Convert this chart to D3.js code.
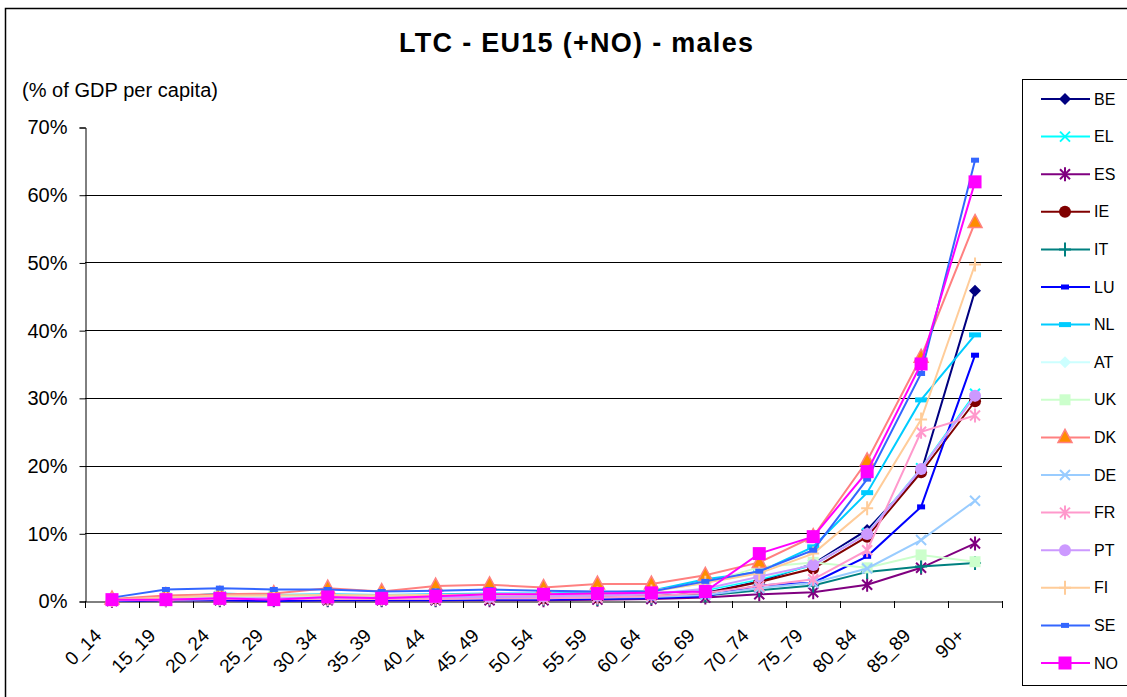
<!DOCTYPE html>
<html><head><meta charset="utf-8">
<script src="https://cdn.jsdelivr.net/npm/d3@7"></script>
<style>
html,body{margin:0;padding:0;background:#fff;}
svg{display:block;font-family:"Liberation Sans",Arial,sans-serif;}
</style></head>
<body>
<svg id="chart" width="1127" height="697"></svg>
<script>
const categories = ["0_14","15_19","20_24","25_29","30_34","35_39","40_44","45_49","50_54","55_59","60_64","65_69","70_74","75_79","80_84","85_89","90+"];
const seriesNames = ["BE","EL","ES","IE","IT","LU","NL","AT","UK","DK","DE","FR","PT","FI","SE","NO"];
const BE = [0.1,0.2,0.3,0.2,0.3,0.3,0.3,0.2,0.3,0.4,0.6,1.2,2.9,5.5,10.5,19.0,45.8];
const EL = [0.2,0.4,0.6,0.6,0.7,0.6,0.7,0.8,0.8,0.9,1.1,1.6,3.2,5.3,10.0,19.6,30.6];
const ES = [0.0,0.1,0.1,0.1,0.1,0.1,0.1,0.1,0.1,0.2,0.3,0.5,1.0,1.3,2.4,4.9,8.5];
const IE = [0.1,0.2,0.3,0.3,0.3,0.3,0.4,0.4,0.4,0.5,0.7,1.1,2.8,4.8,9.5,19.0,29.5];
const IT = [0.1,0.2,0.2,0.2,0.2,0.2,0.2,0.3,0.3,0.3,0.5,0.8,1.6,2.3,4.3,5.1,5.6];
const LU = [0.0,0.1,0.1,0.0,0.1,0.1,0.1,0.2,0.2,0.3,0.4,0.7,2.3,2.7,6.6,13.9,36.3];
const NL = [0.2,0.5,1.1,0.9,1.0,0.9,1.0,1.1,1.1,1.2,1.5,3.2,4.3,8.0,16.0,29.7,39.3];
const AT = [0.2,0.4,0.6,0.6,0.6,0.6,0.7,0.7,0.8,0.9,1.1,1.8,3.4,5.4,10.0,19.5,30.3];
const UK = [0.2,0.5,0.8,0.8,0.8,0.8,0.9,0.9,0.9,1.0,1.5,2.6,5.0,5.7,4.9,6.8,5.8];
const DK = [0.3,0.8,1.0,1.1,1.9,1.4,2.2,2.4,2.0,2.5,2.5,3.8,5.7,9.5,20.7,36.0,55.9];
const DE = [0.1,0.2,0.3,0.3,0.3,0.3,0.3,0.4,0.4,0.5,0.6,0.9,1.9,2.7,4.8,9.0,14.8];
const FR = [0.1,0.2,0.3,0.3,0.3,0.3,0.3,0.4,0.4,0.5,0.7,1.2,2.2,3.2,7.5,25.0,27.4];
const PT = [0.1,0.3,0.4,0.4,0.5,0.5,0.6,0.6,0.7,0.8,1.0,1.8,3.6,5.3,9.9,19.5,30.3];
const FI = [0.2,0.5,0.8,0.8,0.9,0.8,0.9,1.0,1.0,1.1,1.4,2.7,4.1,7.0,13.7,26.8,49.7];
const SE = [0.5,1.7,1.9,1.7,1.7,1.4,1.5,1.7,1.5,1.4,1.4,2.9,4.4,7.5,18.0,33.6,65.1];
const NO = [0.2,0.2,0.4,0.2,0.6,0.4,0.7,1.0,1.0,1.1,1.2,1.4,7.0,9.5,19.1,35.0,61.9];
const yTicks = [0,0.1,0.2,0.3,0.4,0.5,0.6,0.7];

const values = {BE,EL,ES,IE,IT,LU,NL,AT,UK,DK,DE,FR,PT,FI,SE,NO};
const styles = {
  BE:{c:"#000080",m:"diamond"}, EL:{c:"#00FFFF",m:"x"}, ES:{c:"#800080",m:"star"},
  IE:{c:"#800000",m:"circle"}, IT:{c:"#008080",m:"plus"}, LU:{c:"#0000FF",m:"dash"},
  NL:{c:"#00CCFF",m:"dashL"}, AT:{c:"#CCFFFF",m:"diamond"}, UK:{c:"#CCFFCC",m:"square"},
  DK:{c:"#FF8080",m:"triangle",f:"#FF8C00"}, DE:{c:"#99CCFF",m:"x"}, FR:{c:"#FF99CC",m:"star"},
  PT:{c:"#CC99FF",m:"circle"}, FI:{c:"#FFCC99",m:"plus"}, SE:{c:"#3366FF",m:"dash"},
  NO:{c:"#FF00FF",m:"squareL"}
};

const svg = d3.select("#chart");
svg.append("rect").attr("x",5.5).attr("y",8.5).attr("width",1130).attr("height",700)
  .attr("fill","none").attr("stroke","#000").attr("stroke-width",1.5);

const pLeft=85, pRight=1002, pTop=127, pBottom=601;
const x = d3.scaleBand().domain(categories).range([pLeft,pRight]);
const y = d3.scaleLinear().domain([0,0.7]).range([pBottom,pTop]);

svg.append("text").attr("x",399).attr("y",52)
  .attr("font-size",27).attr("font-weight","bold")
  .attr("textLength",354).attr("lengthAdjust","spacing").text("LTC - EU15 (+NO) - males");
svg.append("text").attr("x",22).attr("y",97).attr("font-size",20)
  .attr("textLength",196).attr("lengthAdjust","spacing").text("(% of GDP per capita)");

svg.append("g").selectAll("line").data(yTicks.filter(d=>d>0 && d<0.7)).join("line")
  .attr("x1",pLeft).attr("x2",pRight).attr("y1",d=>Math.round(y(d))+0.5).attr("y2",d=>Math.round(y(d))+0.5)
  .attr("stroke","#000").attr("stroke-width",1);

const yAxis = d3.axisLeft(y).tickValues(yTicks).tickFormat(d3.format(".0%")).tickSize(6).tickPadding(12);
const gy = svg.append("g").attr("transform",`translate(${pLeft+0.5},0.5)`).call(yAxis);
gy.selectAll("text").attr("font-size",20).attr("font-family","Liberation Sans, Arial, sans-serif").attr("fill","#000");
gy.selectAll("line,path").attr("stroke","#000");

const xAxis = d3.axisBottom(x).tickSize(0).tickFormat("");
const gx = svg.append("g").attr("transform",`translate(0,${pBottom+0.5})`).call(xAxis);
gx.select("path").attr("stroke","#000");
const bounds = categories.map((c)=>x(c)).concat([pRight]);
svg.append("g").selectAll("line").data(bounds).join("line")
  .attr("x1",d=>Math.round(d)+0.5).attr("x2",d=>Math.round(d)+0.5).attr("y1",pBottom).attr("y2",pBottom+7)
  .attr("stroke","#000");
svg.append("g").selectAll("text").data(categories).join("text")
  .attr("transform",d=>`translate(${x(d)+x.bandwidth()/2-14},${pBottom+31}) rotate(-45)`)
  .attr("text-anchor","end").attr("font-size",19).attr("dy","0.35em").text(d=>d);

function drawMarker(g, type, color, fill){
  switch(type){
    case "diamond": g.append("path").attr("d","M0,-6L6,0L0,6L-6,0Z").attr("fill",color); break;
    case "x": g.append("path").attr("d","M-5,-5L5,5M-5,5L5,-5").attr("stroke",color).attr("stroke-width",2); break;
    case "star": g.append("path").attr("d","M-5,-5L5,5M-5,5L5,-5M0,-7L0,7").attr("stroke",color).attr("stroke-width",2); break;
    case "circle": g.append("circle").attr("r",6).attr("fill",color); break;
    case "plus": g.append("path").attr("d","M0,-7L0,7M-6,0L6,0").attr("stroke",color).attr("stroke-width",2); break;
    case "dash": g.append("rect").attr("x",-4).attr("y",-2.5).attr("width",8).attr("height",5).attr("fill",color); break;
    case "dashL": g.append("rect").attr("x",-6).attr("y",-2.5).attr("width",12).attr("height",5).attr("fill",color); break;
    case "square": g.append("rect").attr("x",-5.5).attr("y",-5.5).attr("width",11).attr("height",11).attr("fill",color); break;
    case "squareL": g.append("rect").attr("x",-6.5).attr("y",-6.5).attr("width",13).attr("height",13).attr("fill",color); break;
    case "triangle": g.append("path").attr("d","M0,-8L7,5L-7,5Z").attr("fill",fill).attr("stroke",color).attr("stroke-width",1.5); break;
  }
}

const line = d3.line().x((d,i)=>x(categories[i])+x.bandwidth()/2).y(d=>y(d/100));
seriesNames.forEach(name=>{
  const st = styles[name], vals = values[name];
  const g = svg.append("g");
  g.append("path").attr("d",line(vals)).attr("fill","none").attr("stroke",st.c).attr("stroke-width",2);
  vals.forEach((v,i)=>{
    const mg = g.append("g").attr("transform",`translate(${x(categories[i])+x.bandwidth()/2},${y(v/100)})`);
    drawMarker(mg, st.m, st.c, st.f);
  });
});

svg.append("rect").attr("x",1022.5).attr("y",79.5).attr("width",130).attr("height",606)
  .attr("fill","#fff").attr("stroke","#000").attr("stroke-width",1);
const legY = d3.scalePoint().domain(seriesNames).range([99,663]);
seriesNames.forEach(name=>{
  const st = styles[name];
  const g = svg.append("g").attr("transform",`translate(0,${legY(name)})`);
  g.append("line").attr("x1",1041).attr("x2",1090).attr("stroke",st.c).attr("stroke-width",2);
  const mg = g.append("g").attr("transform","translate(1065,0)");
  drawMarker(mg, st.m, st.c, st.f);
  g.append("text").attr("x",1094).attr("y",0).attr("dy","0.35em").attr("font-size",16).text(name);
});
</script>
</body></html>
